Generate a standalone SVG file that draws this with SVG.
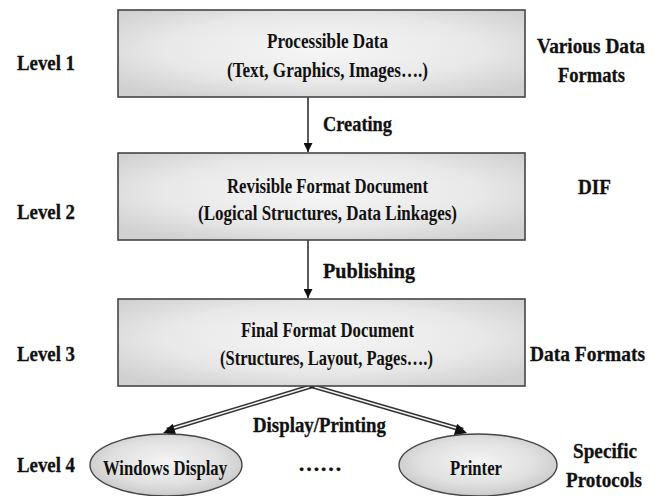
<svg xmlns="http://www.w3.org/2000/svg" width="662" height="496" viewBox="0 0 662 496">
  <defs>
    <radialGradient id="boxFill" cx="50%" cy="45%" r="65%">
      <stop offset="0" stop-color="#f6f6f6"/>
      <stop offset="0.6" stop-color="#e8e8e8"/>
      <stop offset="1" stop-color="#d0d0d0"/>
    </radialGradient>
    <radialGradient id="ovalFill" cx="50%" cy="45%" r="60%">
      <stop offset="0" stop-color="#f4f4f4"/>
      <stop offset="0.6" stop-color="#e0e0e0"/>
      <stop offset="1" stop-color="#c4c4c4"/>
    </radialGradient>
    <marker id="head" viewBox="0 0 10 10" refX="10" refY="5" markerWidth="10" markerHeight="9" markerUnits="userSpaceOnUse" orient="auto">
      <path d="M0,0 L10,5 L0,10 Z" fill="#111"/>
    </marker>
    <marker id="headWide" viewBox="0 0 10 10" refX="10" refY="5" markerWidth="14" markerHeight="12" markerUnits="userSpaceOnUse" orient="auto">
      <path d="M0,0 L10,5 L0,10 Z" fill="#111"/>
    </marker>
  </defs>
  <style>
    text { font-family: "Liberation Serif", "Times New Roman", serif; font-weight: bold; fill: #111; }
    .box { fill: url(#boxFill); stroke: #454545; stroke-width: 1.6; }
    .oval { fill: url(#ovalFill); stroke: #454545; stroke-width: 1.4; }
    .inner { font-size: 21px; }
    .label { font-size: 21px; stroke: #111; stroke-width: 0.3; }
    .vline { fill: none; stroke: #5a5a5a; stroke-width: 2; }
    .dbl-out { fill: none; stroke: #333; stroke-width: 4.5; }
    .dbl-in { fill: none; stroke: #f4f4f4; stroke-width: 1.6; }
  </style>

  <rect width="662" height="496" fill="#ffffff"/>

  <!-- level labels -->
  <g id="levels">
    <text class="label" x="17" y="70" textLength="58" lengthAdjust="spacingAndGlyphs">Level 1</text>
    <text class="label" x="17" y="219" textLength="58" lengthAdjust="spacingAndGlyphs">Level 2</text>
    <text class="label" x="17" y="361" textLength="58" lengthAdjust="spacingAndGlyphs">Level 3</text>
    <text class="label" x="17" y="472" textLength="58" lengthAdjust="spacingAndGlyphs">Level 4</text>
  </g>

  <!-- format labels on the right -->
  <g id="formats">
    <text class="label" x="537" y="53" textLength="108" lengthAdjust="spacingAndGlyphs">Various Data</text>
    <text class="label" x="558" y="82" textLength="67" lengthAdjust="spacingAndGlyphs">Formats</text>
    <text class="label" x="578" y="194" textLength="33" lengthAdjust="spacingAndGlyphs">DIF</text>
    <text class="label" x="530" y="361" textLength="115" lengthAdjust="spacingAndGlyphs">Data Formats</text>
    <text class="label" x="573" y="458" textLength="64" lengthAdjust="spacingAndGlyphs">Specific</text>
    <text class="label" x="566" y="487" textLength="76" lengthAdjust="spacingAndGlyphs">Protocols</text>
  </g>

  <!-- connectors -->
  <g id="connectors">
    <line class="vline" x1="308" y1="97" x2="308" y2="152" marker-end="url(#head)"/>
    <line class="vline" x1="308" y1="240" x2="308" y2="298" marker-end="url(#head)"/>
    <path class="dbl-out" d="M312,386 L167,430"/>
    <path class="dbl-in" d="M312,386 L167,430"/>
    <path class="dbl-out" d="M312,386 L463,430"/>
    <path class="dbl-in" d="M312,386 L463,430"/>
    <path d="M312,386 L163,433" fill="none" stroke="none" marker-end="url(#headWide)"/>
    <path d="M312,386 L467,433" fill="none" stroke="none" marker-end="url(#headWide)"/>
    <rect x="309.5" y="384" width="5" height="4" fill="#222"/>
    <text class="label" x="323" y="131" textLength="69" lengthAdjust="spacingAndGlyphs">Creating</text>
    <text class="label" x="323" y="278" textLength="92" lengthAdjust="spacingAndGlyphs">Publishing</text>
    <text class="label" x="253" y="432" textLength="133" lengthAdjust="spacingAndGlyphs">Display/Printing</text>
  </g>

  <g id="processible-data">
    <rect class="box" x="118" y="10" width="407" height="87"/>
    <text class="inner" x="267" y="48" textLength="121" lengthAdjust="spacingAndGlyphs">Processible Data</text>
    <text class="inner" x="227" y="77" textLength="201" lengthAdjust="spacingAndGlyphs">(Text, Graphics, Images….)</text>
  </g>

  <g id="revisible-format">
    <rect class="box" x="118" y="153" width="407" height="87"/>
    <text class="inner" x="227" y="193" textLength="201" lengthAdjust="spacingAndGlyphs">Revisible Format Document</text>
    <text class="inner" x="198" y="220" textLength="259" lengthAdjust="spacingAndGlyphs">(Logical Structures, Data Linkages)</text>
  </g>

  <g id="final-format">
    <rect class="box" x="118" y="299" width="407" height="87"/>
    <text class="inner" x="241" y="337" textLength="173" lengthAdjust="spacingAndGlyphs">Final Format Document</text>
    <text class="inner" x="220" y="365" textLength="213" lengthAdjust="spacingAndGlyphs">(Structures, Layout, Pages….)</text>
  </g>

  <g id="windows-display">
    <ellipse class="oval" cx="166" cy="465" rx="76" ry="31"/>
    <text class="inner" x="103" y="475" textLength="124" lengthAdjust="spacingAndGlyphs">Windows Display</text>
  </g>

  <text id="more" class="label" x="298" y="471" textLength="44" lengthAdjust="spacingAndGlyphs">……</text>

  <g id="printer">
    <ellipse class="oval" cx="478" cy="465" rx="79" ry="31"/>
    <text class="inner" x="450" y="475" textLength="52" lengthAdjust="spacingAndGlyphs">Printer</text>
  </g>
</svg>
